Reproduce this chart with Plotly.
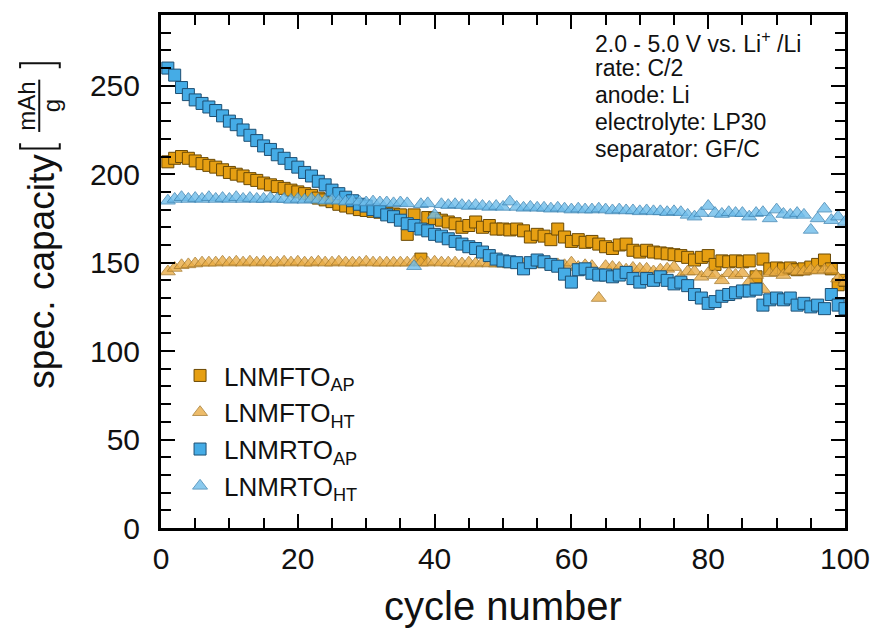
import plotly.graph_objects as go

cycles = list(range(1, 101))

# LNMFTO, as prepared (AP) – specific capacity in mAh/g
lnmfto_ap = [
    207, 209, 210, 209, 207.5, 206, 205, 204, 202.5, 201,
    200, 199, 197.5, 196.5, 195, 194, 193, 192, 191, 190,
    189, 188, 186.5, 185.5, 184.5, 183, 182, 181, 180, 179.5,
    179, 178.5, 178, 177.5, 177, 166, 177, 152, 175.5, 175,
    174, 173, 172, 170, 171, 173, 170, 171, 169, 169,
    168.5, 169, 168, 164.5, 166, 165, 163, 169, 164.5, 162,
    163, 161.5, 162, 160.5, 159, 158, 160, 160.5, 157, 156,
    157, 156, 155.5, 155, 154.5, 154, 153, 151.5, 153, 154,
    149, 151, 150.5, 151, 150.5, 151, 142, 152, 146.5, 147,
    146.5, 147, 146, 146.5, 147.5, 149, 151.5, 146.5, 137.5, 140,
]

# LNMFTO, heat treated (HT)
lnmfto_ht = [
    145, 147, 148.5, 149, 149.5, 150, 150, 150, 150.5, 150,
    150.5, 150, 150.5, 150, 150.5, 150, 150, 150.5, 150, 150.5,
    150, 150, 150.5, 150, 150, 150.5, 150, 150, 150, 150.5,
    150, 150, 150, 150, 150, 150, 150.5, 150, 150, 150.5,
    150, 150, 150, 149.5, 150, 149.5, 150, 149.5, 149.5, 149.5,
    149, 149.5, 149, 149, 149.5, 149, 149, 149, 148.5, 150,
    147.5, 148.5, 148, 130, 148, 147.5, 147, 146, 147, 146.5,
    146.5, 145, 146, 146.5, 147.5, 142, 145, 145, 142, 144,
    143, 140, 144, 143, 144, 139, 143, 135, 144, 144.5,
    143, 146, 145, 145, 146, 145.5, 146, 146, 141, 139,
]

# LNMRTO, as prepared (AP)
lnmrto_ap = [
    260, 256, 249, 245, 242, 240, 238, 236, 233, 230,
    228, 225, 222, 219, 216, 214, 211, 209, 206, 204,
    201, 199, 196, 194, 191, 189, 187, 185, 183, 182,
    180, 179, 177, 176, 174, 172, 171, 169, 168, 166,
    165, 163.5, 162, 160.5, 159, 158, 156, 154, 152, 151,
    150.5, 150, 146.5, 150, 151.5, 150.5, 149, 148, 143.5, 139,
    146, 146.5, 144, 143, 143, 142, 143, 144.5, 141, 139,
    141, 140, 142, 140, 138, 139, 137, 132, 130, 127,
    128, 131, 132, 133, 134, 134, 135, 126, 129, 130,
    129, 130, 126, 127, 125, 126, 124, 132, 126, 124,
]

# LNMRTO, heat treated (HT)
lnmrto_ht = [
    185, 186, 187, 186, 186.5, 186, 187, 186, 186.5, 186,
    187, 186, 186.5, 186, 186, 186.5, 186, 186, 185.5, 186,
    185.5, 186, 185.5, 185, 185.5, 185, 184.5, 185, 184.5, 184,
    184.5, 184, 184, 183.5, 184, 183.5, 148, 183, 183.5, 177,
    183, 182.5, 183, 182.5, 182, 182.5, 182, 181.5, 182, 181.5,
    184.5, 181.5, 181, 181.5, 181, 181, 180.5, 181, 180.5, 180,
    180.5, 180, 180, 180.5, 180, 179.5, 180, 179.5, 179.5, 179,
    179.5, 179, 179, 178.5, 179, 178.5, 177, 176, 178, 182,
    178, 177.5, 178.5, 178, 178, 176, 178, 178.5, 175, 180,
    177.5, 177, 178, 177, 168.5, 175, 180.5, 174, 176, 173,
]

x_ticks = [0, 20, 40, 60, 80, 100]
y_ticks = [0, 50, 100, 150, 200, 250]

conditions = [
    "2.0 - 5.0 V vs. Li<sup>+</sup> /Li",
    "rate: C/2",
    "anode: Li",
    "electrolyte: LP30",
    "separator: GF/C",
]

FONT = "Liberation Sans, Arial, sans-serif"
INK = "#111"

series = [
    ("LNMFTO<sub>AP</sub>", lnmfto_ap, "square", 12, "#E69F12", "#6b4a05", 1.0),
    ("LNMFTO<sub>HT</sub>", lnmfto_ht, "triangle-up", 13, "#E9AC45", "#a87a2a", 0.8),
    ("LNMRTO<sub>AP</sub>", lnmrto_ap, "square", 12, "#45ACE6", "#1d4f73", 1.0),
    ("LNMRTO<sub>HT</sub>", lnmrto_ht, "triangle-up", 13, "#6FBDEB", "#3f86b4", 0.8),
]

fig = go.Figure()
for name, vals, sym, size, fill, edge, op in series:
    fig.add_trace(go.Scatter(
        x=cycles, y=vals, mode="markers", name=name,
        marker=dict(symbol=sym, size=size, color=fill, opacity=op,
                    line=dict(color=edge, width=1)),
    ))

axis_common = dict(
    showline=True, linecolor="black", linewidth=3, mirror="allticks",
    ticks="inside", ticklen=14, tickwidth=2, tickcolor="black",
    showgrid=False, zeroline=False,
    tickfont=dict(family=FONT, size=30, color=INK),
)

fig.update_xaxes(
    range=[0, 100], tickvals=x_ticks, ticklabelstandoff=2, **axis_common,
    minor=dict(dtick=5, ticklen=10, tickwidth=2, tickcolor="black", ticks="inside"),
)
fig.update_yaxes(
    range=[0, 290], tickvals=y_ticks, ticklabelstandoff=12, **axis_common,
    minor=dict(dtick=10, ticklen=10, tickwidth=2, tickcolor="black", ticks="inside"),
)

# axis titles, unit fraction and measurement conditions
annotations = [
    dict(text="cycle number", x=0.5, y=-0.152, xref="paper", yref="paper",
         xanchor="center", yanchor="middle", showarrow=False,
         font=dict(family=FONT, size=40, color=INK)),
    dict(text="spec. capacity", x=-0.175, y=0.5, xref="paper", yref="paper",
         textangle=-90, xanchor="center", yanchor="middle", showarrow=False,
         font=dict(family=FONT, size=37, color=INK)),
    dict(text="mAh", x=-0.196, y=0.823, xref="paper", yref="paper",
         textangle=-90, xanchor="center", yanchor="middle", showarrow=False,
         font=dict(family=FONT, size=24, color=INK)),
    dict(text="g", x=-0.160, y=0.823, xref="paper", yref="paper",
         textangle=-90, xanchor="center", yanchor="middle", showarrow=False,
         font=dict(family=FONT, size=24, color=INK)),
]
for i, line in enumerate(conditions):
    annotations.append(dict(
        text=line, x=0.632, y=0.948 - i * 0.0522, xref="paper", yref="paper",
        xanchor="left", yanchor="middle", showarrow=False,
        font=dict(family=FONT, size=23, color=INK)))

# fraction bar and square brackets round the unit
shapes = [
    dict(type="line", xref="paper", yref="paper",
         x0=-0.178, x1=-0.178, y0=0.772, y1=0.874, line=dict(color=INK, width=2)),
    dict(type="path", xref="paper", yref="paper",
         path="M -0.206,0.750 L -0.206,0.740 L -0.148,0.740 L -0.148,0.750",
         line=dict(color=INK, width=2)),
    dict(type="path", xref="paper", yref="paper",
         path="M -0.206,0.896 L -0.206,0.906 L -0.148,0.906 L -0.148,0.896",
         line=dict(color=INK, width=2)),
]

fig.update_layout(
    width=882, height=629,
    margin=dict(l=161, r=31, t=12, b=101),
    paper_bgcolor="white", plot_bgcolor="white",
    font=dict(family=FONT, color=INK),
    legend=dict(x=0.022, y=0.343, xanchor="left", yanchor="top",
                bgcolor="rgba(0,0,0,0)", tracegroupgap=0, itemwidth=38,
                font=dict(family=FONT, size=26, color=INK)),
    annotations=annotations,
    shapes=shapes,
)

fig.write_html("out.html")
